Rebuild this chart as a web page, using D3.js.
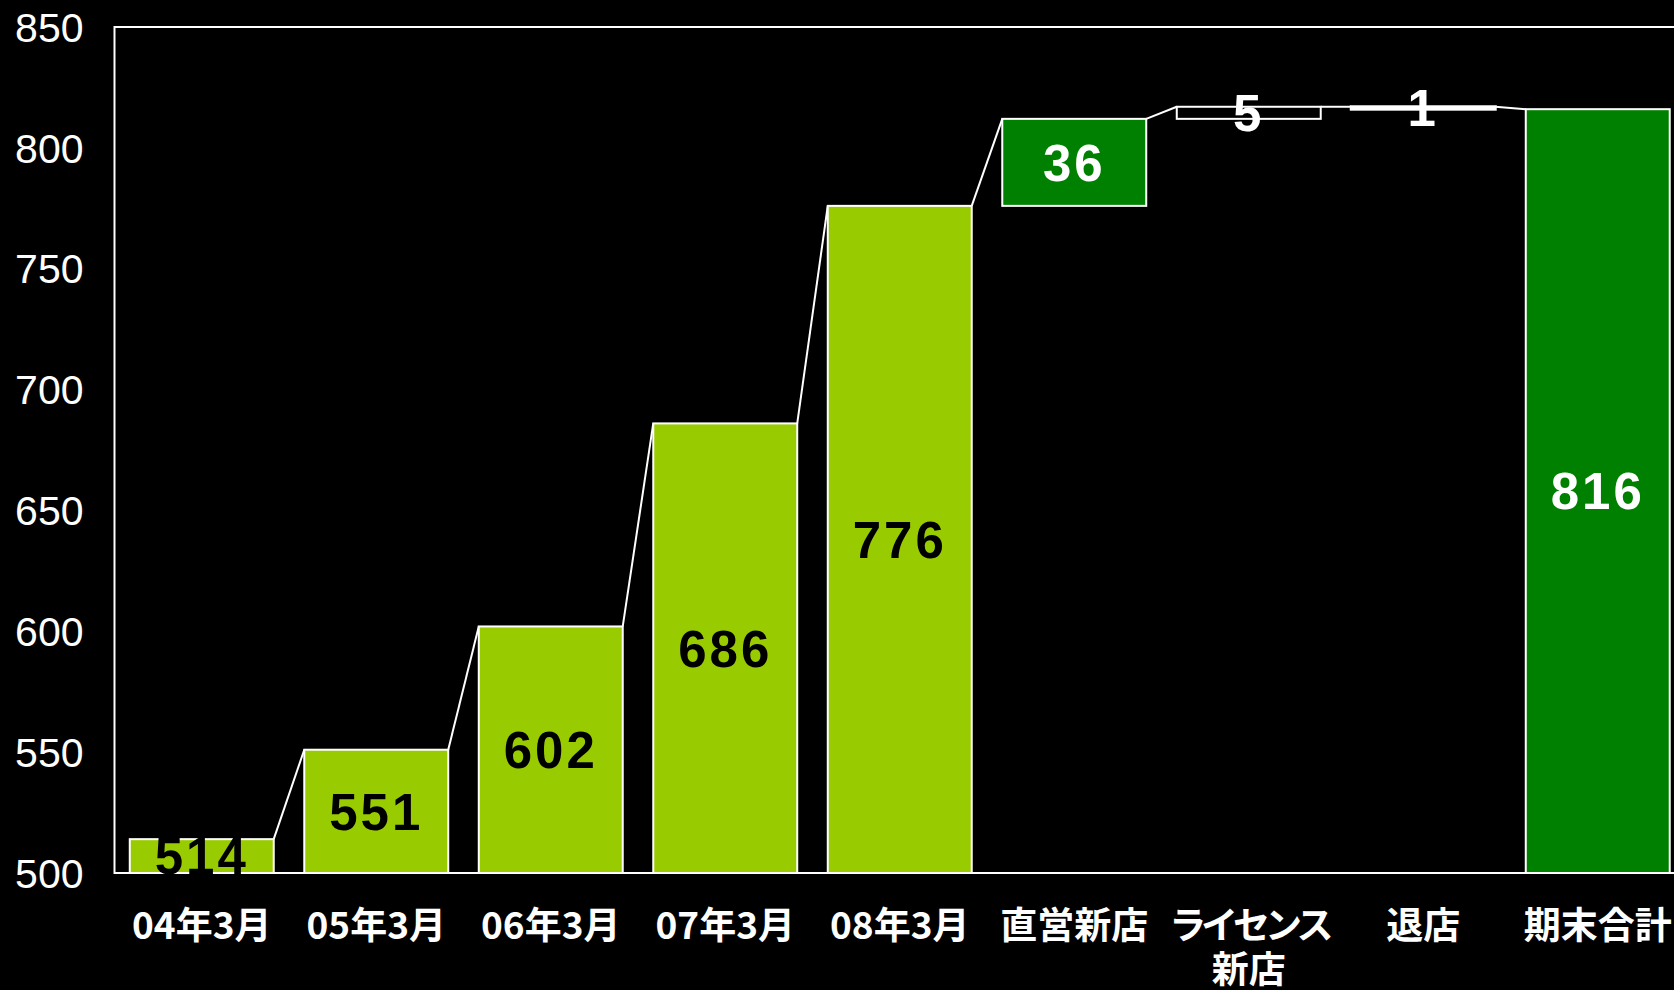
<!DOCTYPE html>
<html>
<head>
<meta charset="utf-8">
<script src="https://cdn.jsdelivr.net/npm/d3@7"></script>
<style>
  body { margin: 0; background: #000; overflow: hidden; }
  svg { display: block; }
</style>
</head>
<body>
<div id="chart"></div>
<script>
// data
const categories = ["04年3月", "05年3月", "06年3月", "07年3月", "08年3月", "直営新店", "ライセンス\n新店", "退店", "期末合計"];
const values = [514, 551, 602, 686, 776, 36, 5, -1, 816];
const kinds = ["total", "total", "total", "total", "total", "delta", "delta", "delta", "total"];
const yTicks = [500, 550, 600, 650, 700, 750, 800, 850];

const W = 1674, H = 990;
const margin = { top: 27, left: 114.5, bottom: 117 };
const plotW = 1570.5, plotH = H - margin.top - margin.bottom;

const svg = d3.select("#chart")
    .append("svg")
    .attr("width", W)
    .attr("height", H);

const g = svg.append("g")
    .attr("transform", `translate(${margin.left}, ${margin.top})`);

const x = d3.scaleBand()
    .domain(categories)
    .range([0, plotW])
    .paddingInner(0.175)
    .paddingOuter(0.0875);

const y = d3.scaleLinear()
    .domain([500, 850])
    .range([plotH, 0]);

// running totals for the waterfall
let running = 0;
const bars = categories.map((c, i) => {
    let lo, hi;
    if (kinds[i] === "total") {
        running = values[i];
        lo = 500; hi = values[i];
    } else {
        const start = running;
        running += values[i];
        lo = Math.min(start, running);
        hi = Math.max(start, running);
    }
    return { cat: c, value: values[i], lo: lo, hi: hi, i: i };
});

function barFill(d) {
    if (d.i < 5) return "#99cc00";
    if (d.cat === "直営新店" || d.cat === "期末合計") return "#008000";
    return "#000";
}

function labelFill(d) {
    return d.i < 5 ? "#000" : "#fff";
}

// frame
g.append("rect")
    .attr("x", 0)
    .attr("y", 0)
    .attr("width", plotW)
    .attr("height", plotH)
    .attr("fill", "none")
    .attr("stroke", "#fff")
    .attr("stroke-width", 2);

// connectors, top-right of one bar to top-left of the next
g.selectAll(".conn")
    .data(bars.slice(0, -1))
    .enter()
    .append("line")
    .attr("x1", d => x(d.cat) + x.bandwidth())
    .attr("y1", d => y(d.hi))
    .attr("x2", d => x(bars[d.i + 1].cat))
    .attr("y2", d => y(bars[d.i + 1].hi))
    .attr("stroke", "#fff")
    .attr("stroke-width", 2);

g.selectAll(".bar")
    .data(bars)
    .enter()
    .append("rect")
    .attr("x", d => x(d.cat))
    .attr("y", d => y(d.hi))
    .attr("width", x.bandwidth())
    .attr("height", d => y(d.lo) - y(d.hi))
    .attr("fill", barFill)
    .attr("stroke", "#fff")
    .attr("stroke-width", d => d.cat === "退店" ? 3 : 2);

g.selectAll(".lbl")
    .data(bars)
    .enter()
    .append("text")
    .attr("x", d => x(d.cat) + x.bandwidth() / 2)
    .attr("y", d => (y(d.lo) + y(d.hi)) / 2)
    .attr("dy", "0.36em")
    .attr("text-anchor", "middle")
    .style("font-family", "'Liberation Sans', Arial, sans-serif")
    .style("font-weight", "700")
    .style("font-size", "51px")
    .style("letter-spacing", "3px")
    .attr("fill", labelFill)
    .text(d => Math.abs(d.value));

// y axis labels
g.selectAll(".ytick")
    .data(yTicks)
    .enter()
    .append("text")
    .attr("x", -31)
    .attr("y", d => y(d))
    .attr("dy", "0.36em")
    .attr("text-anchor", "end")
    .style("font-family", "'Liberation Sans', Arial, sans-serif")
    .style("font-size", "41px")
    .attr("fill", "#fff")
    .text(d => d);

// x axis labels
const xl = g.selectAll(".xlbl")
    .data(categories)
    .enter()
    .append("text")
    .attr("text-anchor", "middle")
    .attr("transform", d => `translate(${x(d) + x.bandwidth() / 2}, ${plotH + 66})`)
    .style("font-family", "'Noto Sans CJK JP', sans-serif")
    .style("font-weight", "700")
    .style("font-size", "37px")
    .attr("fill", "#fff");

xl.selectAll("tspan")
    .data(d => d.split("\n"))
    .enter()
    .append("tspan")
    .attr("x", 0)
    .attr("y", (d, i) => i * 44)
    .style("letter-spacing", d => d === "ライセンス" ? "-5px" : "0px")
    .text(d => d);
</script>
</body>
</html>
